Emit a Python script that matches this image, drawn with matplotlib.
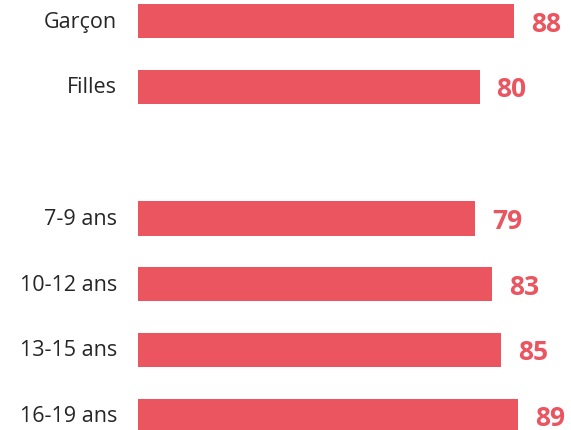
import matplotlib
matplotlib.use("Agg")
import matplotlib.pyplot as plt

# categories and scores (an empty slot separates the two groups)
labels = ["Garçon", "Filles", "7-9 ans", "10-12 ans", "13-15 ans", "16-19 ans"]
values = [88, 80, 79, 83, 85, 89]
slots = [0, 1, 3, 4, 5, 6]

red = "#EA5560"

fig = plt.figure(figsize=(5.71, 4.31), dpi=100)
ax = fig.add_axes([138 / 571, 0, 1 - 138 / 571, 1])

ax.barh(slots, values, height=0.52, color=red)

for s, lab, v in zip(slots, labels, values):
    ax.annotate(lab, xy=(0, s), xytext=(-21, 0), textcoords="offset pixels",
                ha="right", va="center", fontsize=15.5, color="#262626",
                family="Open Sans")
    ax.annotate(str(v), xy=(v, s), xytext=(17, -2), textcoords="offset pixels",
                ha="left", va="center", fontsize=19, color=red,
                fontweight="bold", family="Open Sans")

ax.set_xlim(0, 433 / 4.27)
ax.set_ylim(409 / 65.8, -22 / 65.8)
ax.axis("off")

fig.savefig("out.png", dpi=100)
